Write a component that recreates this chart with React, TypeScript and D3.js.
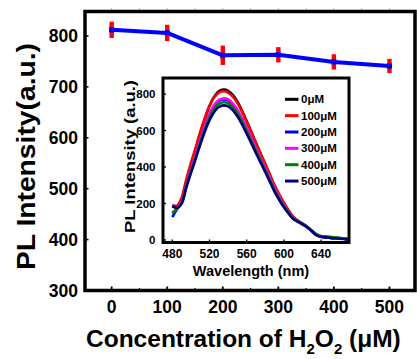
import React from "react";
import * as d3 from "d3";

// Main panel: peak PL intensity vs. H2O2 concentration
const concentrations = [0, 100, 200, 300, 400, 500];
const intensity = [812, 806, 762, 763, 749, 741];
const intensityErr = [16, 16, 19, 15, 15, 14];
const mainXTicks = [0, 100, 200, 300, 400, 500];
const mainXMinor = [50, 150, 250, 350, 450];
const mainYTicks = [300, 400, 500, 600, 700, 800];

// Inset: emission spectra
const wavelengths = [480, 485, 490, 495, 500, 505, 510, 515, 520, 525, 530, 535, 540, 545, 550, 555, 560, 565, 570, 575, 580, 585, 590, 595, 600, 605, 610, 615, 620, 625, 630, 635, 640, 645, 650, 660, 670];
const spec0 = [185, 182, 222, 320, 410, 495, 585, 665, 735, 785, 815, 825, 818, 795, 758, 708, 652, 592, 532, 472, 415, 355, 295, 245, 200, 160, 125, 105, 90, 72, 50, 28, 18, 15, 12, 8, 3];
const spec100 = [192, 188, 232, 332, 422, 505, 592, 668, 735, 782, 808, 815, 808, 786, 750, 702, 648, 590, 530, 472, 416, 358, 300, 250, 205, 163, 128, 106, 90, 72, 50, 28, 18, 15, 12, 8, 3];
const spec200 = [125, 168, 205, 298, 383, 463, 547, 622, 688, 735, 763, 771, 765, 743, 708, 662, 609, 553, 497, 441, 388, 332, 276, 229, 187, 150, 118, 100, 86, 70, 48, 27, 17, 14, 11, 8, 3];
const spec300 = [150, 172, 208, 300, 386, 466, 550, 626, 692, 740, 768, 776, 771, 749, 714, 668, 616, 560, 504, 448, 395, 340, 284, 236, 193, 155, 122, 104, 89, 71, 49, 28, 18, 15, 12, 8, 3];
const spec400 = [145, 170, 204, 294, 376, 454, 536, 608, 672, 718, 746, 755, 750, 729, 695, 650, 598, 544, 489, 435, 383, 329, 274, 228, 187, 151, 120, 103, 88, 72, 52, 32, 22, 20, 17, 12, 5];
const spec500 = [185, 176, 198, 285, 366, 442, 522, 594, 656, 702, 729, 738, 733, 712, 678, 634, 583, 530, 476, 423, 372, 318, 264, 219, 179, 145, 115, 100, 86, 70, 48, 27, 17, 14, 11, 7, 2];
const seriesLabels = ["0\u03bcM", "100\u03bcM", "200\u03bcM", "300\u03bcM", "400\u03bcM", "500\u03bcM"];
const seriesColors = ["#000000", "#ff0000", "#0000ff", "#ff00ff", "#008000", "#000080"];
const seriesValues = [spec0, spec100, spec200, spec300, spec400, spec500];
const insetXTicks = [480, 520, 560, 600, 640];
const insetYTicks = [0, 200, 400, 600, 800];

const FONT = "'Liberation Sans', Arial, Helvetica, sans-serif";

export default function App() {
  // main frame
  const L = 85, R = 415, T = 11.5, B = 290.5;
  const x = d3.scaleLinear().domain([-48, 546]).range([L, R]);
  const y = d3.scaleLinear().domain([300, 848]).range([B, T]);

  const mainPts = concentrations.map((c, i) => [x(c), y(intensity[i])] as [number, number]);
  const mainLine = d3.line()(mainPts) || "";

  // inset frame
  const iL = 163, iR = 349, iT = 78, iB = 242.5;
  const ix = d3.scaleLinear().domain([470, 670]).range([iL, iR]);
  const iy = d3.scaleLinear().domain([-14, 888]).range([iB, iT]);
  const specLine = d3
    .line<number>()
    .x((_, i) => ix(wavelengths[i]))
    .y((v) => iy(v))
    .curve(d3.curveCatmullRom);

  return (
    <svg
      width={417}
      height={359}
      style={{ position: "absolute", left: 0, top: 0, background: "#fff" }}
      fontFamily={FONT}
      fontWeight="bold"
    >
      <rect x={0} y={0} width={417} height={359} fill="#fff" />

      {/* faint top ticks */}
      {[0, ...mainXMinor, ...mainXTicks.slice(1)].map((t) => (
        <line key={"tt" + t} x1={x(t)} x2={x(t)} y1={8} y2={10.5} stroke="#aaa" strokeWidth={0.8} />
      ))}

      {/* main data */}
      <path d={mainLine} fill="none" stroke="#0000ff" strokeWidth={4} strokeLinejoin="round" />
      {concentrations.map((c, i) => (
        <rect
          key={"eb" + c}
          x={x(c) - 2.2}
          width={4.4}
          y={y(intensity[i] + intensityErr[i])}
          height={y(intensity[i] - intensityErr[i]) - y(intensity[i] + intensityErr[i])}
          fill="#ff0000"
        />
      ))}
      {concentrations.map((c, i) => (
        <rect key={"mk" + c} x={x(c) - 2.6} y={y(intensity[i]) - 2.6} width={5.2} height={5.2} fill="#0000ff" />
      ))}

      {/* main frame */}
      <rect x={L} y={T} width={R - L} height={B - T} fill="none" stroke="#000" strokeWidth={3.5} />

      {/* main y ticks */}
      {mainYTicks.map((t) => (
        <g key={"my" + t}>
          <line x1={L} x2={L + 3.5} y1={y(t)} y2={y(t)} stroke="#000" strokeWidth={1.5} />
          <text x={78} y={y(t)} dy="0.36em" textAnchor="end" fontSize={17.5}>
            {t}
          </text>
        </g>
      ))}
      {/* main x ticks */}
      {mainXTicks.map((t) => (
        <g key={"mx" + t}>
          <line x1={x(t)} x2={x(t)} y1={B} y2={B - 4} stroke="#000" strokeWidth={1.8} />
          <text x={x(t)} y={312.5} textAnchor="middle" fontSize={17.5}>
            {t}
          </text>
        </g>
      ))}
      {mainXMinor.map((t) => (
        <line key={"mxm" + t} x1={x(t)} x2={x(t)} y1={B} y2={B - 2.5} stroke="#000" strokeWidth={1.2} />
      ))}

      {/* main axis titles */}
      <text
        transform="translate(35,156.5) rotate(-90)"
        textAnchor="middle"
        fontSize={25.5}
        textLength={227}
        lengthAdjust="spacingAndGlyphs"
      >
        PL Intensity(a.u.)
      </text>
      <text x={86} y={346.5} fontSize={24.5}>
        {"Concentration of H"}
        <tspan fontSize={15} dy={7}>2</tspan>
        <tspan dy={-7}>O</tspan>
        <tspan fontSize={15} dy={7}>2</tspan>
        <tspan dy={-7}>{" (\u03bcM)"}</tspan>
      </text>

      {/* inset */}
      <rect x={iL} y={iT} width={iR - iL} height={iB - iT} fill="#fff" />
      <defs>
        <clipPath id="insetClip">
          <rect x={iL} y={iT} width={iR - iL} height={iB - iT} />
        </clipPath>
      </defs>
      <g clipPath="url(#insetClip)">
        {seriesValues.map((vals, k) => (
          <path
            key={"sp" + k}
            d={specLine(vals) || ""}
            fill="none"
            stroke={seriesColors[k]}
            strokeWidth={2.6}
            strokeLinejoin="round"
          />
        ))}
      </g>
      <rect x={iL} y={iT} width={iR - iL} height={iB - iT} fill="none" stroke="#000" strokeWidth={3} />

      {insetYTicks.map((t) => (
        <g key={"iy" + t}>
          <line x1={iL} x2={iL + 3} y1={iy(t)} y2={iy(t)} stroke="#000" strokeWidth={1.3} />
          <text x={155.5} y={iy(t)} dy="0.36em" textAnchor="end" fontSize={11.5}>
            {t}
          </text>
        </g>
      ))}
      {insetXTicks.map((t) => (
        <g key={"ix" + t}>
          <line x1={ix(t)} x2={ix(t)} y1={iB} y2={iB - 3} stroke="#000" strokeWidth={1.3} />
          <text x={ix(t)} y={257.5} textAnchor="middle" fontSize={12}>
            {t}
          </text>
        </g>
      ))}
      <text
        transform="translate(135,156.5) rotate(-90)"
        textAnchor="middle"
        fontSize={15.5}
        textLength={153}
        lengthAdjust="spacingAndGlyphs"
      >
        PL Intensity (a.u.)
      </text>
      <text x={251} y={276} textAnchor="middle" fontSize={14.5}>
        Wavelength (nm)
      </text>

      {/* legend */}
      {seriesLabels.map((lab, k) => (
        <g key={"lg" + k} transform={`translate(0,${99.3 + k * 16.35})`}>
          <line x1={285} x2={298.5} y1={0} y2={0} stroke={seriesColors[k]} strokeWidth={3} />
          <text x={301} y={0} dy="0.36em" fontSize={11.5}>
            {lab}
          </text>
        </g>
      ))}
    </svg>
  );
}
